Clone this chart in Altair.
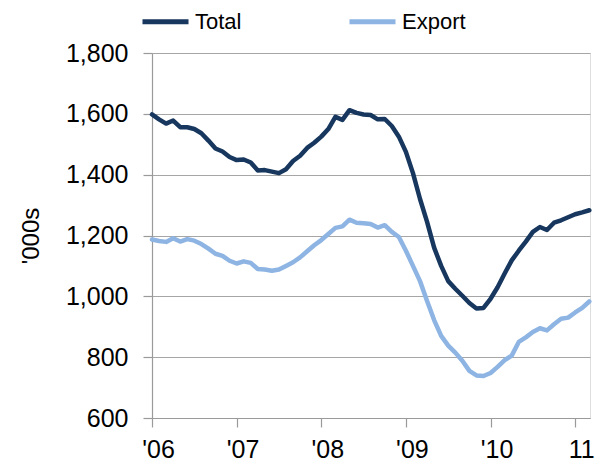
import json
import altair as alt
import pandas as pd

# Monthly values, Jan 2006 .. Mar 2011 ('000s)
total = [1598, 1582, 1568, 1578, 1556, 1556, 1550, 1536, 1512, 1486, 1476, 1458,
         1448, 1450, 1440, 1414, 1415, 1410, 1405, 1418, 1445, 1462, 1488, 1505,
         1525, 1550, 1590, 1580, 1612, 1603, 1598, 1596, 1582, 1583, 1560, 1525,
         1475, 1405, 1320, 1245, 1160, 1100, 1050, 1025, 1002, 978, 960, 962,
         992, 1030, 1075, 1118, 1150, 1180, 1212, 1228, 1218, 1242, 1250, 1260,
         1270, 1276, 1283]
export = [1187, 1182, 1179, 1191, 1180, 1188, 1183, 1172, 1157, 1140, 1133, 1117,
          1108, 1115, 1110, 1090, 1088, 1084, 1088, 1100, 1112, 1128, 1148, 1168,
          1185, 1205, 1225, 1230, 1252, 1242, 1240, 1238, 1226, 1234, 1212, 1195,
          1150, 1100, 1050, 985, 922, 870, 838, 815, 788, 755, 740, 738,
          748, 768, 790, 805, 850, 865, 883, 895, 888, 908, 926, 930,
          947, 962, 983]
series_names = ["Total", "Export"]
series_colors = ["#17375E", "#8DB4E2"]
tick_labels = ["'06", "'07", "'08", "'09", "'10", "11"]
y_ticks = [600, 800, 1000, 1200, 1400, 1600, 1800]

rows = []
for i, v in enumerate(total):
    rows.append({"month": i, "value": v, "series": "Total"})
for i, v in enumerate(export):
    rows.append({"month": i, "value": v, "series": "Export"})
df = pd.DataFrame(rows)

label_expr = json.dumps(tick_labels) + "[round(datum.value / 12)]"

chart = alt.Chart(df).mark_line(strokeWidth=4.5, strokeJoin="round", strokeCap="round").encode(
    x=alt.X("month:Q",
            scale=alt.Scale(domain=[0, 62.1], nice=False, zero=False),
            axis=alt.Axis(values=[0, 12, 24, 36, 48, 60], labelExpr=label_expr,
                          grid=False, title=None, tickSize=9, tickColor="#9A9A9A",
                          domainColor="#9A9A9A", domainWidth=1.2, tickWidth=1.2,
                          labelFontSize=25, labelFont="Liberation Sans",
                          labelColor="#000000", labelPadding=10, labelOffset=6,
                          labelFlush=False, labelOverlap=False)),
    y=alt.Y("value:Q",
            scale=alt.Scale(domain=[600, 1800], nice=False, zero=False),
            axis=alt.Axis(values=y_ticks, format=",d", grid=True, gridColor="#A6A6A6",
                          gridWidth=1.2, tickSize=9, tickColor="#9A9A9A", tickWidth=1.2,
                          domainColor="#9A9A9A", domainWidth=1.2,
                          labelFontSize=25, labelFont="Liberation Sans",
                          labelColor="#000000", labelPadding=15,
                          title="'000s", titleFontSize=24, titleFont="Liberation Sans",
                          titleFontWeight="normal", titleColor="#000000",
                          titlePadding=22)),
    color=alt.Color("series:N",
                    scale=alt.Scale(domain=series_names, range=series_colors),
                    legend=alt.Legend(orient="none", legendX=-12, legendY=-57,
                                      direction="horizontal", columns=2,
                                      title=None, symbolType="stroke",
                                      symbolSize=2116, symbolStrokeWidth=5,
                                      labelFontSize=22, labelFont="Liberation Sans",
                                      labelColor="#000000", labelOffset=4,
                                      columnPadding=97, padding=0)),
    order=alt.Order("month:Q"),
).properties(
    width=438, height=365,
    autosize=alt.AutoSizeParams(type="none"),
    padding={"left": 144, "top": 45, "right": 11, "bottom": 44},
).configure_view(stroke=None).configure(background="#ffffff")

chart.save("out.html", embed_options={"renderer": "svg", "actions": False})
